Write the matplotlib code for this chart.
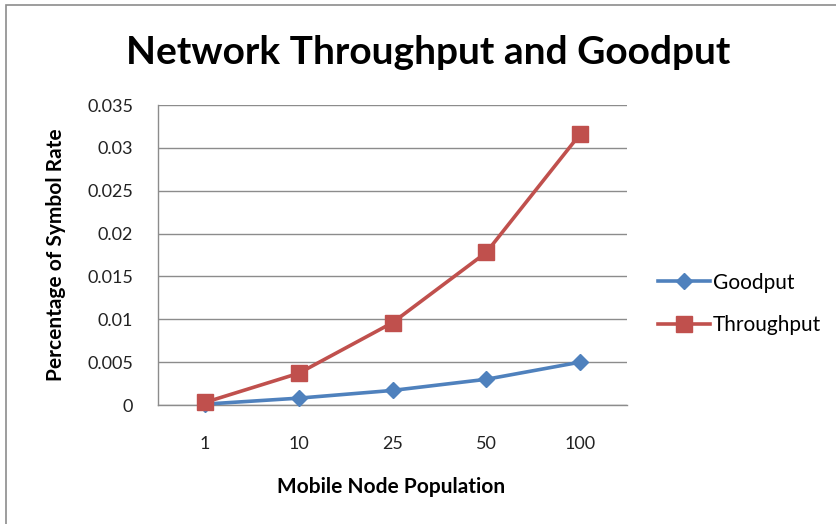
import matplotlib.pyplot as plt
from matplotlib.patches import Rectangle

categories = ["1", "10", "25", "50", "100"]
goodput = [0.0001, 0.0008, 0.0017, 0.0030, 0.0050]
throughput = [0.0003, 0.0037, 0.0096, 0.0178, 0.0316]
y_ticks = [0, 0.005, 0.01, 0.015, 0.02, 0.025, 0.03, 0.035]
y_labels = ["0", "0.005", "0.01", "0.015", "0.02", "0.025", "0.03", "0.035"]

plt.rcParams["font.family"] = ["Lato", "DejaVu Sans"]

W, H = 836, 524
fig = plt.figure(figsize=(W / 100, H / 100), dpi=100)
fig.patch.set_facecolor("white")

# chart frame, runs off the right and bottom edges
fig.patches.append(Rectangle((6 / W, -0.1), 1.2, (H - 5) / H + 0.1,
                             transform=fig.transFigure, fill=False,
                             edgecolor="#8c8c8c", linewidth=1.2))

ax = fig.add_axes([158 / W, (H - 405) / H, 469 / W, 300 / H])
x = list(range(len(categories)))

ax.plot(x, goodput, color="#4F81BD", linewidth=2.6, marker="D",
        markersize=8.5, label="Goodput", zorder=3, clip_on=False)
ax.plot(x, throughput, color="#C0504D", linewidth=2.6, marker="s",
        markersize=12, label="Throughput", zorder=4, clip_on=False)

ax.set_xlim(-0.5, 4.5)
ax.set_ylim(0, 0.035)
ax.set_xticks(x)
ax.set_xticklabels(categories)
ax.set_yticks(y_ticks)
ax.set_yticklabels(y_labels)
ax.tick_params(length=0, labelsize=13, colors="#222222")
ax.tick_params(axis="x", pad=22)
ax.tick_params(axis="y", pad=18)

ax.grid(axis="y", color="#8c8c8c", linewidth=1)
ax.set_axisbelow(True)
for side in ["top", "right"]:
    ax.spines[side].set_visible(False)
for side in ["left", "bottom"]:
    ax.spines[side].set_color("#8c8c8c")
    ax.spines[side].set_linewidth(1)

fig.text(428 / W, 1 - 52 / H, "Network Throughput and Goodput",
         ha="center", va="center", fontsize=28, fontweight="bold")
fig.text(391 / W, 1 - 487 / H, "Mobile Node Population",
         ha="center", va="center", fontsize=15, fontweight="bold")
fig.text(56 / W, 1 - 255 / H, "Percentage of Symbol Rate", rotation=90,
         ha="center", va="center", fontsize=15, fontweight="bold")

ax.legend(loc="center left", bbox_to_anchor=(658 / W, 1 - 304 / H),
          bbox_transform=fig.transFigure, frameon=False, fontsize=15,
          handlelength=2.5, handletextpad=0.15, labelspacing=1.1,
          borderaxespad=0, borderpad=0)

fig.savefig("out.png", dpi=100)
